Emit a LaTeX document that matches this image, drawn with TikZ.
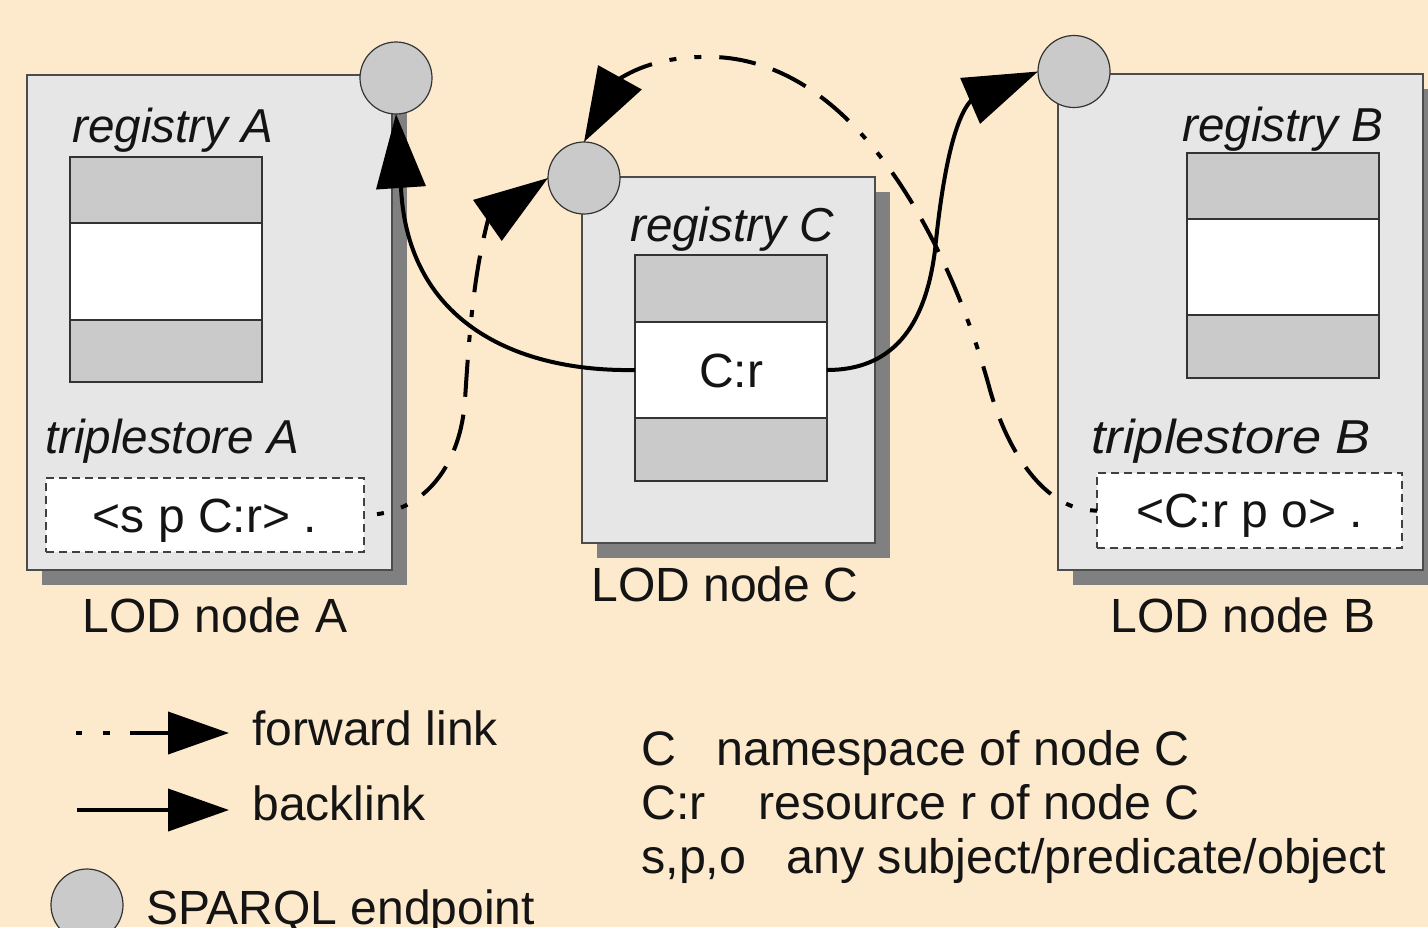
\documentclass[tikz,border=0pt]{standalone}
\usepackage{fontspec}
\setmainfont{Liberation Sans}
\usetikzlibrary{arrows.meta,shadows,calc}

\definecolor{paper}{RGB}{253,234,205}
\definecolor{boxgray}{RGB}{230,230,230}
\definecolor{cellgray}{RGB}{202,202,202}
\definecolor{shadowgray}{RGB}{128,128,128}
\definecolor{ink}{RGB}{20,20,20}

\tikzset{
  lodbox/.style={draw=black!70, line width=0.6pt, fill=boxgray, anchor=north west,
    inner sep=0pt, outer sep=0pt,
    general shadow={fill=shadowgray, shadow xshift=7.5pt, shadow yshift=-7.5pt}},
  cell/.style={draw=black!80, line width=0.6pt, fill=cellgray, anchor=north west,
    inner sep=0pt, outer sep=0pt, minimum width=96pt},
  blank/.style={cell, fill=white, text=ink, text height=17.2pt, text depth=0pt},
  endpoint/.style={circle, draw=black!80, line width=0.6pt, fill=cellgray,
    minimum size=36pt, inner sep=0pt, outer sep=0pt},
  triples/.style={draw=black!75, dash pattern=on 4pt off 2.5pt, line width=0.6pt,
    fill=white, inner sep=0pt, outer sep=0pt, text=ink, text height=17.2pt, text depth=0pt},
  lbl/.style={anchor=base, inner sep=0pt, text=ink},
  ilbl/.style={lbl, font=\fontsize{23.8}{28}\selectfont\itshape},
  leftlbl/.style={lbl, anchor=base west},
  link/.style={line width=2pt, draw=black, -{Triangle[length=37pt,width=24.5pt]}},
  fwdlink/.style={link, dash pattern=on 3.5pt off 9pt on 3.5pt off 9pt on 18.5pt off 9pt
    on 18.5pt off 9pt on 18.5pt off 9pt},
  keyarrow/.style={line width=2pt, draw=black, -{Triangle[length=30.5pt,width=21pt]}},
}

\begin{document}
\begin{tikzpicture}[x=0.5pt, y=-0.5pt, font=\fontsize{24}{28}\selectfont]
\useasboundingbox (0,0) rectangle (1428,927);
\clip (0,0) rectangle (1428,927);
\fill[paper] (0,0) rectangle (1428,927);

% LOD nodes
\node[lodbox, minimum width=182.5pt, minimum height=247.5pt] (boxA) at (27,75) {};
\node[lodbox, minimum width=146.5pt, minimum height=183pt] (boxC) at (582,177) {};
\node[lodbox, minimum width=182.5pt, minimum height=248pt] (boxB) at (1058,74) {};

% registries
\node[cell, minimum height=33pt] (rA1) at (70,157) {};
\node[blank, minimum height=48.5pt] (rA2) at (rA1.south west) {};
\node[cell, minimum height=31pt] (rA3) at (rA2.south west) {};

\node[cell, minimum height=33.5pt] (rC1) at (635,255) {};
\node[blank, minimum height=48pt] (crC) at (rC1.south west) {C:r};
\node[cell, minimum height=31.5pt] (rC3) at (crC.south west) {};

\node[cell, minimum height=33pt] (rB1) at (1187,153) {};
\node[blank, minimum height=48pt] (rB2) at (rB1.south west) {};
\node[cell, minimum height=31.5pt] (rB3) at (rB2.south west) {};

% triplestores
\node[triples, minimum width=159pt, minimum height=37pt] (tsA) at (205,515) {<s p C:r> .};
\node[triples, minimum width=152.5pt, minimum height=37.5pt] (tsB) at (1249.5,510.5) {<C:r p o> .};

% labels
\node[ilbl] (regA) at (173,142) {registry A};
\node[ilbl] (regC) at (732,241) {registry C};
\node[ilbl] (regB) at (1283,141) {registry B};
\node[ilbl] (tripA) at (172,453) {triplestore A};
\node[ilbl] (tripB) at (1231,453) {\scalebox{1.1}[1]{triplestore B}};
\node[lbl] (lodA) at (215,632) {LOD node A};
\node[lbl] (lodC) at (725,601) {LOD node C};
\node[lbl] (lodB) at (1243,632) {LOD node B};

% SPARQL endpoints
\node[endpoint] (epA) at (396,78) {};
\node[endpoint] (epC) at (584,178) {};
\node[endpoint] (epB) at (1074,71.5) {};

% backlinks
\draw[link] (crC.west) .. controls (520,372) and (408,325) ..
  ($(epA.south)+(5,74)$) -- (epA.south);
\draw[link] (crC.east) .. controls (890,370) and (925,330) .. (935,250)
  .. controls (943,170) and (955,118) .. ($(epB.west)+(-67,29)$) -- (epB.west);

% forward links
\draw[fwdlink, dash phase=101pt] (tsA.east) .. controls (420,515) and (460,470) .. (465,400)
  .. controls (470,320) and (475,270) .. ($(epC.west)+(-60,42)$) -- (epC.west);
\draw[fwdlink] (tsB.west) .. controls (1050,512) and (1010,460) .. (990,390)
  .. controls (955,260) and (860,50) .. (700,57)
  .. controls (665,58) and (640,66) .. ($(epC.north)+(35,-63)$) -- (epC.north);

% key
\coordinate (kf0) at (76,733);
\coordinate (kf1) at (229,733);
\coordinate (kb0) at (77,810);
\coordinate (kb1) at (229,810);
\draw[keyarrow, dash pattern=on 3pt off 10.5pt on 3.5pt off 10pt on 100pt off 1pt] (kf0) -- (kf1);
\draw[keyarrow] (kb0) -- (kb1);
\node[leftlbl] (kfwd) at (252,745) {forward link};
\node[leftlbl] (kback) at (252,820) {backlink};
\node[endpoint] (kep) at (87,905) {};
\node[leftlbl] (ksparql) at (146,924) {SPARQL endpoint};

\begin{scope}[font=\fontsize{24.2}{28}\selectfont]
\node[leftlbl] (kC) at (641,765) {C};
\node[leftlbl] (kCd) at (716,765) {namespace of node C};
\node[leftlbl] (kCr) at (641,819) {C:r};
\node[leftlbl] (kCrd) at (758,819) {resource r of node C};
\node[leftlbl] (kspo) at (641,873) {s,p,o};
\node[leftlbl] (kspod) at (786,873) {any subject/predicate/object};
\end{scope}
\end{tikzpicture}
\end{document}
